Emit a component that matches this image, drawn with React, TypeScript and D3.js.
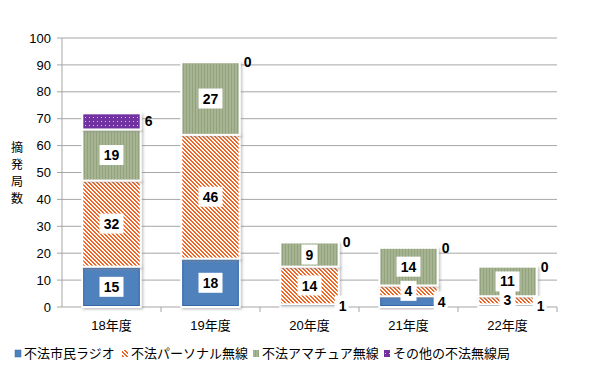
import React from "react";
import * as d3 from "d3";

const categories = ["18年度", "19年度", "20年度", "21年度", "22年度"];
const seriesNames = ["不法市民ラジオ", "不法パーソナル無線", "不法アマチュア無線", "その他の不法無線局"];
const citizenRadio = [15, 18, 1, 4, 1];
const personalRadio = [32, 46, 14, 4, 3];
const amateurRadio = [19, 27, 9, 14, 11];
const otherStations = [6, 0, 0, 0, 0];
const yTicks = [0, 10, 20, 30, 40, 50, 60, 70, 80, 90, 100];
const axisTitle = ["摘", "発", "局", "数"];

const W = 590, H = 377;
const m = { left: 62, right: 557, top: 38, bottom: 307 };
const FONT = "'Liberation Sans', Arial, 'Noto Sans CJK JP', sans-serif";
const fills = ["url(#pBlue)", "url(#pOrange)", "url(#pGreen)", "url(#pPurple)"];

export default function App() {
  const values = [citizenRadio, personalRadio, amateurRadio, otherStations];
  const x = d3.scaleBand().domain(categories).range([m.left, m.right]).paddingInner(0.41).paddingOuter(0.205);
  const y = d3.scaleLinear().domain([0, 100]).range([m.bottom, m.top]);
  const rows = categories.map((c, i) => {
    const r: any = { cat: c };
    values.forEach((v, s) => (r["s" + s] = v[i]));
    return r;
  });
  const stack = d3.stack().keys(["s0", "s1", "s2", "s3"])(rows as any);
  const bw = x.bandwidth();
  const step = x.step();

  const labels: any[] = [];
  stack.forEach((layer, s) => {
    layer.forEach((d, i) => {
      const v = values[s][i];
      const cx = (x(categories[i]) as number) + bw / 2;
      const yc = (y(d[0]) + y(d[1])) / 2;
      const right = (x(categories[i]) as number) + bw;
      if (s === 3) {
        labels.push({ x: right + 4, y: yc, t: String(v), box: false, anchor: "start" });
      } else if (s === 0 && v < 5) {
        labels.push({ x: right - 2, y: yc, t: String(v), box: true, anchor: "start", small: true });
      } else {
        labels.push({ x: cx, y: yc, t: String(v), box: true, anchor: "middle" });
      }
    });
  });

  const legendX = [15, 122, 253, 384];
  const orangePix: [number, number][] = [];
  for (let i = 0; i < 4; i++) {
    orangePix.push([i, i]);
    orangePix.push([(i + 1) % 4, i]);
  }

  return (
    <svg width={W} height={H} style={{ position: "absolute", left: 0, top: 0 }} fontFamily={FONT}>
      <defs>
        <pattern id="pBlue" width="4" height="4" patternUnits="userSpaceOnUse">
          <rect width="4" height="4" fill="#4F81BD" />
        </pattern>
        <pattern id="pOrange" width="4" height="4" patternUnits="userSpaceOnUse">
          <rect width="4" height="4" fill="#F26522" />
          {orangePix.map(([px, py], k) => (
            <rect key={k} x={px} y={py} width="1" height="1" fill="#FFFFFF" />
          ))}
        </pattern>
        <pattern id="pGreen" width="3" height="3" patternUnits="userSpaceOnUse">
          <rect width="3" height="3" fill="#A6B493" />
          <rect width="1" height="3" fill="#93A37C" />
        </pattern>
        <pattern id="pPurple" width="4" height="4" patternUnits="userSpaceOnUse">
          <rect width="4" height="4" fill="#7030A0" />
          <rect x="1" y="1" width="1" height="1" fill="#D8C4E8" />
        </pattern>
        <filter id="shadow" x="-10%" y="-10%" width="130%" height="130%">
          <feDropShadow dx="1.5" dy="1.5" stdDeviation="1" floodColor="#888" floodOpacity="0.5" />
        </filter>
      </defs>
      <rect width={W} height={H} fill="#fff" />
      {yTicks.map((t) => (
        <g key={t}>
          {t > 0 && <line x1={m.left} x2={m.right} y1={y(t)} y2={y(t)} stroke="#A6A6A6" strokeWidth={1} />}
          <line x1={m.left - 5} x2={m.left} y1={y(t)} y2={y(t)} stroke="#A6A6A6" />
          <text x={51} y={y(t)} dy="0.36em" textAnchor="end" fontSize={13} fill="#000">{t}</text>
        </g>
      ))}
      <line x1={m.left} x2={m.left} y1={m.top} y2={m.bottom} stroke="#A6A6A6" />
      <line x1={m.left} x2={m.right} y1={m.bottom} y2={m.bottom} stroke="#A6A6A6" />
      {categories.map((c, i) => (
        <line key={c} x1={m.left + step * (i + 1)} x2={m.left + step * (i + 1)} y1={m.bottom} y2={m.bottom + 5} stroke="#A6A6A6" />
      ))}
      {stack.map((layer, s) =>
        layer.map((d, i) => {
          const h = y(d[0]) - y(d[1]);
          if (h <= 0) return null;
          return (
            <g key={s + "-" + i} filter="url(#shadow)">
              <rect x={x(categories[i])} y={y(d[1])} width={bw} height={h} fill={fills[s]} stroke="#fff" strokeWidth={2} />
              {s === 0 && (
                <rect x={(x(categories[i]) as number) + 1.5} y={y(d[1]) + 1.5} width={bw - 3} height={Math.max(0, h - 3)} fill="none" stroke="#3568A8" strokeWidth={1} />
              )}
            </g>
          );
        })
      )}
      {labels.map((l, k) => {
        const w = l.t.length * 8 + 8;
        const bx = l.anchor === "middle" ? l.x - w / 2 : l.x - 2;
        return (
          <g key={k}>
            {l.box && <rect x={bx} y={l.y - 10} width={l.small ? w - 2 : w} height={20} fill="#fff" />}
            <text x={l.anchor === "middle" ? l.x : l.x + (l.box ? 2 : 0)} y={l.y} dy="0.36em" textAnchor={l.anchor} fontSize={14} fontWeight="bold" fill="#000">{l.t}</text>
          </g>
        );
      })}
      {categories.map((c) => (
        <text key={c} x={(x(c) as number) + bw / 2} y={330} textAnchor="middle" fontSize={13} fill="#000">{c}</text>
      ))}
      {axisTitle.map((ch, i) => (
        <text key={i} x={17} y={148 + i * 17} dy="0.36em" textAnchor="middle" fontSize={12} fill="#000">{ch}</text>
      ))}
      {seriesNames.map((n, i) => (
        <g key={n}>
          <rect x={legendX[i]} y={350} width={6} height={7} fill={fills[i]} stroke={i === 0 ? "#3568A8" : "none"} strokeWidth={0.5} />
          <text x={legendX[i] + 9} y={353.5} dy="0.36em" fontSize={13} fill="#000">{n}</text>
        </g>
      ))}
    </svg>
  );
}
